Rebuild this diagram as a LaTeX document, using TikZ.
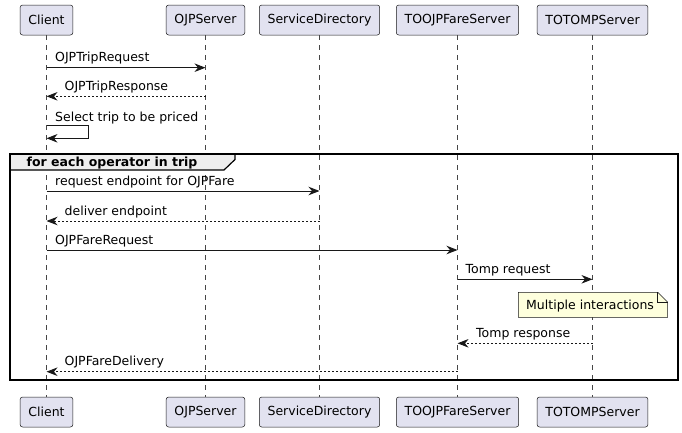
\documentclass[tikz,border=0pt]{standalone}
\usepackage{fontspec}
\setmainfont{DejaVu Sans}
\usetikzlibrary{arrows.meta}
\definecolor{pbox}{HTML}{E2E2F0}
\definecolor{ink}{HTML}{181818}
\definecolor{notefill}{HTML}{FEFFDD}
\definecolor{tabfill}{HTML}{EEEEEE}
\tikzset{
  x=1pt, y=-1pt,
  every node/.style={font=\fontsize{12.5}{15}\selectfont, text=black},
  part/.style={draw=ink, fill=pbox, rounded corners=2.5pt, line width=0.5pt, minimum height=30pt, inner xsep=8.3pt, inner ysep=0pt},
  life/.style={draw=ink!80, line width=0.5pt, dash pattern=on 5pt off 5pt},
  msg/.style={draw=ink, line width=0.9pt, -{Stealth[length=11pt,width=8.5pt,inset=3.5pt]}},
  ret/.style={msg, dash pattern=on 2pt off 2pt},
  lbl/.style={anchor=base west, inner sep=0pt},
}
\begin{document}
\begin{tikzpicture}
\useasboundingbox[fill=white] (0,0) rectangle (682,432);
% participants
\foreach \n/\t/\x in {Client/Client/46.5, OJP/OJPServer/205.5, SD/ServiceDirectory/319.5, TOF/TOOJPFareServer/457.5, TOM/TOTOMPServer/592.5}{
  \node[part] (\n) at (\x,20) {\t};
  \node[part] (\n B) at (\x,412) {\t};
  \draw[life] (\n.south) -- (\n B.north);
}
% group frame
\node[inner sep=0pt] (frameTL) at (10,154) {};
\node[inner sep=0pt] (frameBR) at (678,380) {};
\draw[fill=tabfill, line width=1.2pt] (10,154) -- (235,154) -- (235,159.5) -- (224,170) -- (10,170) -- cycle;
\draw[line width=1.6pt] (frameTL.center) rectangle (frameBR.center);
\node[lbl, font=\fontsize{12.5}{15}\selectfont\bfseries] (grp) at (26.5,166) {for each operator in trip};
% messages
\draw[msg] (Client |- 0,67.7) -- (OJP |- 0,67.7);
\node[lbl] (m1) at (55,61.7) {OJPTripRequest};
\draw[ret] (OJP |- 0,96.3) -- (Client |- 0,96.3);
\node[lbl] (m2) at (64.5,90.3) {OJPTripResponse};
\coordinate (s1) at (88.3,125.7);
\coordinate (s2) at (88.3,138.3);
\draw[msg] (Client |- s1) -- (s1) -- (s2) -- (Client |- s2);
\node[lbl] (m3) at (55,121.3) {Select trip to be priced};
\draw[msg] (Client |- 0,191) -- (SD |- 0,191);
\node[lbl] (m4) at (55,185) {request endpoint for OJPFare};
\draw[ret] (SD |- 0,221) -- (Client |- 0,221);
\node[lbl] (m5) at (64.5,215) {deliver endpoint};
\draw[msg] (Client |- 0,250) -- (TOF |- 0,250);
\node[lbl] (m6) at (55,244) {OJPFareRequest};
\draw[msg] (TOF |- 0,279.3) -- (TOM |- 0,279.3);
\node[lbl] (m7) at (465.5,273.3) {Tomp request};
% note
\draw[draw=ink, fill=notefill, line width=0.5pt] (518.3,292.3) -- (657.7,292.3) -- (667.7,302.3) -- (667.7,317.3) -- (518.3,317.3) -- cycle;
\draw[draw=ink, line width=0.5pt] (657.7,292.3) -- (657.7,302.3) -- (667.7,302.3);
\node[lbl] (note) at (526,309) {Multiple interactions};
\draw[ret] (TOM |- 0,343.3) -- (TOF |- 0,343.3);
\node[lbl] (m8) at (476,337.3) {Tomp response};
\draw[ret] (TOF |- 0,371.7) -- (Client |- 0,371.7);
\node[lbl] (m9) at (64.5,365.7) {OJPFareDelivery};
\end{tikzpicture}
\end{document}
